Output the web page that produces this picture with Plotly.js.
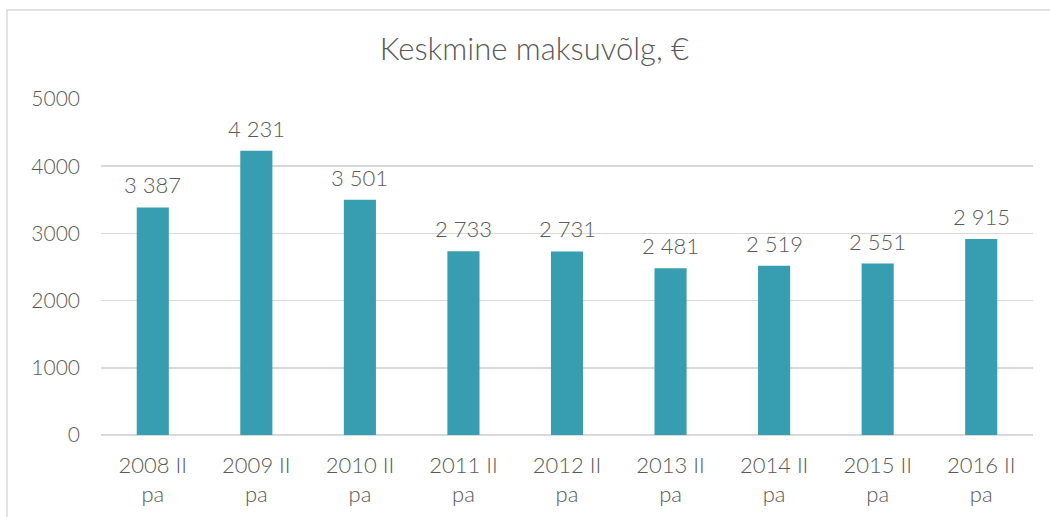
<!DOCTYPE html>
<html>
<head>
<meta charset="utf-8">
<script src="https://cdn.plot.ly/plotly-3.0.1.min.js"></script>
<style>html,body{margin:0;padding:0;background:#fff;}#chart{width:1050px;height:517px;}</style>
</head>
<body>
<div id="chart"></div>
<script>
const categories = ["2008 II<br>pa","2009 II<br>pa","2010 II<br>pa","2011 II<br>pa","2012 II<br>pa","2013 II<br>pa","2014 II<br>pa","2015 II<br>pa","2016 II<br>pa"];
const values = [3387, 4231, 3501, 2733, 2731, 2481, 2519, 2551, 2915];
const yTicks = [0, 1000, 2000, 3000, 4000, 5000];
const titleText = "Keskmine maksuvõlg, €";

function fmt(v){ return String(v).replace(/\B(?=(\d{3})+(?!\d))/g, " "); }

const FONT = "Lato, 'Open Sans', sans-serif";
const GREY = "#595959";

const L = 101, R = 17, T = 99, B = 82, W = 1050, H = 517;
const pw = W - L - R, ph = H - T - B;
const px = p => (p - L) / pw;
const py = p => (H - B - p) / ph;

const trace = {
  type: "bar",
  x: categories,
  y: values,
  marker: {color: "#379DB0"},
  hoverinfo: "none"
};

const annotations = categories.map((c, i) => ({
  x: c, y: values[i], xref: "x", yref: "y",
  text: fmt(values[i]), showarrow: false,
  yanchor: "bottom", yshift: 7,
  font: {family: FONT, size: 22, color: GREY, weight: 300}
}));

const layout = {
  width: W, height: H,
  margin: {l: L, r: R, t: T, b: B, pad: 0},
  paper_bgcolor: "#fff", plot_bgcolor: "#fff",
  bargap: 0.69,
  showlegend: false,
  title: {text: titleText, font: {family: FONT, size: 31, color: GREY, weight: 300}, x: 0.509, xref: "container", xanchor: "center", y: 0.905, yref: "container", yanchor: "middle"},
  xaxis: {
    type: "category",
    tickfont: {family: FONT, size: 22, color: GREY, weight: 300},
    showgrid: false, showline: false, zeroline: false, ticks: "",
    ticklabelstandoff: 15
  },
  yaxis: {
    range: [0, 5000], tickvals: yTicks,
    tickfont: {family: FONT, size: 21, color: GREY, weight: 300},
    showgrid: true, gridcolor: "#d9d9d9", gridwidth: 1.5,
    zeroline: true, zerolinecolor: "#d9d9d9", zerolinewidth: 1.5,
    showline: false, ticks: "", ticklabelstandoff: 20, fixedrange: true
  },
  annotations: annotations,
  shapes: [{
    type: "rect", xref: "paper", yref: "paper",
    x0: px(7), x1: px(1062), y0: py(530), y1: py(10),
    line: {color: "#d9d9d9", width: 1.5}, fillcolor: "rgba(0,0,0,0)", layer: "below"
  }]
};

Plotly.newPlot("chart", [trace], layout, {staticPlot: true, displayModeBar: false});
</script>
</body>
</html>
